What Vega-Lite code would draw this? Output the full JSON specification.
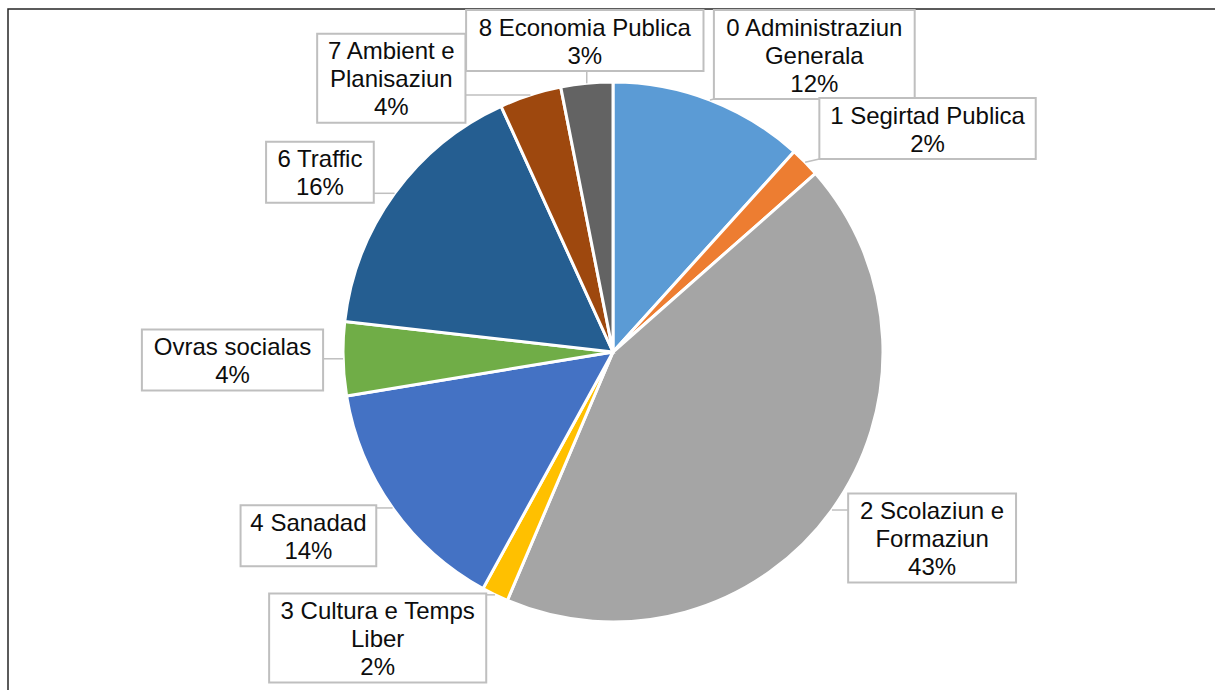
{
  "$schema": "https://vega.github.io/schema/vega-lite/v6.json",
  "width": 1210,
  "height": 686,
  "autosize": {"type": "none"},
  "padding": {"left": 8, "top": 9, "right": -3, "bottom": -5},
  "background": "white",
  "config": {"view": {"stroke": "#262626", "strokeWidth": 1.5}, "font": "Liberation Sans"},
  "data": {
    "values": [
      {"idx": 0, "name": "0 Administraziun\nGenerala", "value": 11.7},
      {"idx": 1, "name": "1 Segirtad Publica", "value": 1.8},
      {"idx": 2, "name": "2 Scolaziun e\nFormaziun", "value": 42.9},
      {"idx": 3, "name": "3 Cultura e Temps\nLiber", "value": 1.6},
      {"idx": 4, "name": "4 Sanadad", "value": 14.4},
      {"idx": 5, "name": "Ovras socialas", "value": 4.4},
      {"idx": 6, "name": "6 Traffic", "value": 16.4},
      {"idx": 7, "name": "7 Ambient e\nPlanisaziun", "value": 3.7},
      {"idx": 8, "name": "8 Economia Publica", "value": 3.1}
    ]
  },
  "transform": [
    {"joinaggregate": [{"op": "sum", "field": "value", "as": "total"}]},
    {"window": [{"op": "sum", "field": "value", "as": "cum"}], "sort": [{"field": "idx", "order": "ascending"}], "frame": [null, 0]},
    {"calculate": "(datum.cum - datum.value/2)/datum.total*2*PI", "as": "mid"},
    {"calculate": "datum.mid - datum.idx*25*PI/180", "as": "k"},
    {"window": [{"op": "min", "field": "k", "as": "mink"}], "sort": [{"field": "idx", "order": "ascending"}], "frame": [0, null]},
    {"calculate": "datum.mink + datum.idx*25*PI/180", "as": "la"},
    {"calculate": "datum.name + '\\n' + format(datum.value/datum.total, '.0%')", "as": "label"},
    {"calculate": "split(datum.label, '\\n')", "as": "lines"},
    {"calculate": "datum.lines[0]", "as": "l0"},
    {"calculate": "length(datum.lines) > 1 ? datum.lines[1] : ''", "as": "l1"},
    {"calculate": "length(datum.lines) > 2 ? datum.lines[2] : ''", "as": "l2"},
    {"calculate": "13.3*length(datum.l0) - 7*(length(datum.l0) - length(replace(datum.l0, regexp('[ijlftr ]','g'), ''))) + 3*(length(datum.l0) - length(replace(datum.l0, regexp('[A-Z]','g'), ''))) + 7*(length(datum.l0) - length(replace(datum.l0, regexp('[m%]','g'), '')))", "as": "w0"},
    {"calculate": "13.3*length(datum.l1) - 7*(length(datum.l1) - length(replace(datum.l1, regexp('[ijlftr ]','g'), ''))) + 3*(length(datum.l1) - length(replace(datum.l1, regexp('[A-Z]','g'), ''))) + 7*(length(datum.l1) - length(replace(datum.l1, regexp('[m%]','g'), '')))", "as": "w1"},
    {"calculate": "13.3*length(datum.l2) - 7*(length(datum.l2) - length(replace(datum.l2, regexp('[ijlftr ]','g'), ''))) + 3*(length(datum.l2) - length(replace(datum.l2, regexp('[A-Z]','g'), ''))) + 7*(length(datum.l2) - length(replace(datum.l2, regexp('[m%]','g'), '')))", "as": "w2"},
    {"calculate": "max(datum.w0, datum.w1, datum.w2)/2 + 10", "as": "hw"},
    {"calculate": "(28*length(datum.lines) + 5)/2", "as": "hh"},
    {"calculate": "290*sin(datum.la)", "as": "ax"},
    {"calculate": "318*cos(datum.la)", "as": "ay"},
    {"calculate": "abs(sin(datum.la)) < 0.2 ? datum.ax : (sin(datum.la) > 0 ? datum.ax + datum.hw : datum.ax - datum.hw)", "as": "cx"},
    {"calculate": "min(datum.ay, 342 - datum.hh)", "as": "cy"},
    {"calculate": "datum.cy + (length(datum.lines) - 1)*14 - 2", "as": "ty"},
    {"calculate": "datum.cx - datum.hw", "as": "bx1"},
    {"calculate": "datum.cx + datum.hw", "as": "bx2"},
    {"calculate": "datum.cy - datum.hh", "as": "by1"},
    {"calculate": "datum.cy + datum.hh", "as": "by2"},
    {"calculate": "270*sin(datum.mid)", "as": "px"},
    {"calculate": "270*cos(datum.mid)", "as": "py"},
    {"calculate": "clamp(datum.px, datum.bx1, datum.bx2)", "as": "qx"},
    {"calculate": "clamp(datum.py, datum.by1, datum.by2)", "as": "qy"}
  ],
  "layer": [
    {
      "mark": {"type": "arc", "outerRadius": 270, "stroke": "white", "strokeWidth": 3},
      "encoding": {
        "theta": {"field": "value", "type": "quantitative", "stack": true},
        "order": {"field": "idx", "type": "quantitative", "sort": "ascending"},
        "color": {
          "field": "idx", "type": "nominal", "legend": null,
          "scale": {"domain": [0, 1, 2, 3, 4, 5, 6, 7, 8],
                    "range": ["#5B9BD5", "#ED7D31", "#A5A5A5", "#FFC000", "#4472C4", "#70AD47", "#255E91", "#9E480E", "#636363"]}
        }
      }
    },
    {
      "mark": {"type": "rule", "stroke": "#BFBFBF", "strokeWidth": 1.5},
      "encoding": {
        "x": {"field": "px", "type": "quantitative", "scale": {"domain": [-605, 605], "nice": false, "zero": false}, "axis": null},
        "y": {"field": "py", "type": "quantitative", "scale": {"domain": [-343, 343], "nice": false, "zero": false}, "axis": null},
        "x2": {"field": "qx"},
        "y2": {"field": "qy"}
      }
    },
    {
      "mark": {"type": "rect", "fill": "white", "stroke": "#BFBFBF", "strokeWidth": 2},
      "encoding": {
        "x": {"field": "bx1", "type": "quantitative", "scale": {"domain": [-605, 605], "nice": false, "zero": false}, "axis": null},
        "x2": {"field": "bx2"},
        "y": {"field": "by1", "type": "quantitative", "scale": {"domain": [-343, 343], "nice": false, "zero": false}, "axis": null},
        "y2": {"field": "by2"}
      }
    },
    {
      "mark": {"type": "text", "fontSize": 24, "lineHeight": 28, "lineBreak": "\n", "align": "center", "baseline": "middle", "font": "Liberation Sans", "color": "#0d0d0d"},
      "encoding": {
        "x": {"field": "cx", "type": "quantitative", "scale": {"domain": [-605, 605], "nice": false, "zero": false}, "axis": null},
        "y": {"field": "ty", "type": "quantitative", "scale": {"domain": [-343, 343], "nice": false, "zero": false}, "axis": null},
        "text": {"field": "label", "type": "nominal"}
      }
    }
  ]
}
